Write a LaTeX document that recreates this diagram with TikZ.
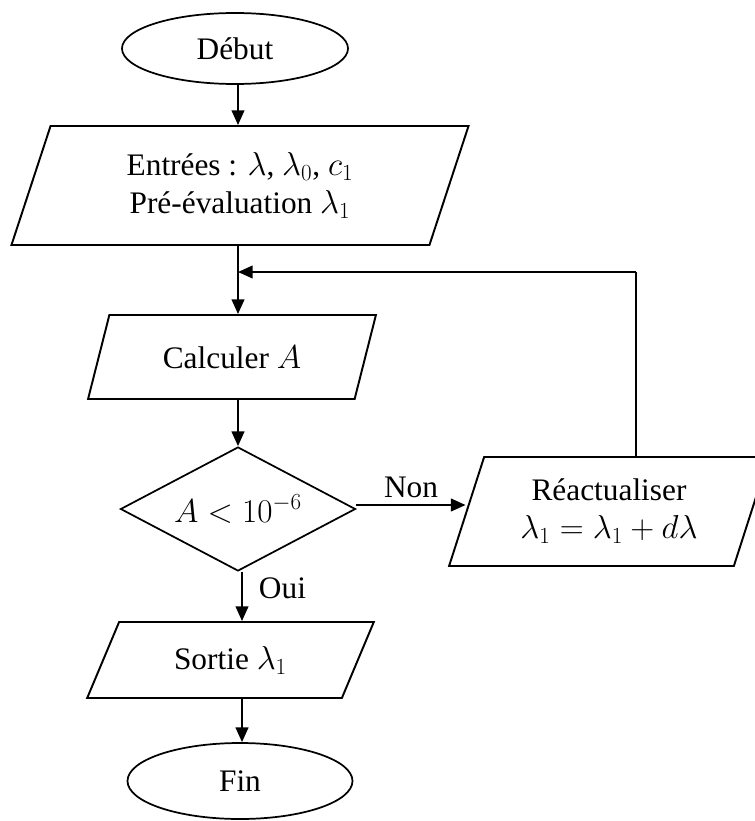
\documentclass[tikz,border=0pt]{standalone}
\usepackage{fontspec}
\setmainfont{Liberation Serif}
\usetikzlibrary{shapes.geometric,arrows.meta}
\begin{document}
\begin{tikzpicture}[x=0.75pt,y=-0.75pt,
  every node/.style={font=\fontsize{23.5}{28.5}\selectfont},
  shp/.style={draw,line width=1.45pt,inner sep=0pt,align=center},
  term/.style={shp,ellipse,line width=1.3pt},
  para/.style={shp,trapezium,trapezium stretches=true},
  cond/.style={shp,diamond,aspect=1.9,line width=1.3pt},
  arr/.style={line width=1.45pt,-{Triangle[length=11pt,width=9.5pt]}},
  lbl/.style={inner sep=0pt}]
\useasboundingbox (0,0) rectangle (755,821);
\clip (0,0) rectangle (755,821);
\node[term,minimum width=169.5pt,minimum height=53.25pt] (debut) at (235,48.5) {Début};
\node[para,trapezium left angle=70.5,trapezium right angle=109.5,minimum width=343.5pt,minimum height=89.25pt] (entree) at (240,185.5)
  {Entrées : $\lambda$, $\lambda_0$, $c_1$\\Pré-évaluation $\lambda_1$};
\node[para,trapezium left angle=62.4,trapezium right angle=117.6,minimum width=216pt,minimum height=63pt] (calc) at (232,357) {Calculer $A$};
\node[cond,minimum width=176.25pt,minimum height=93pt] (test) at (238,509) {$A<10^{-6}$};
\node[para,trapezium left angle=69,trapezium right angle=111,minimum width=240pt,minimum height=81.75pt] (reac) at (609,511.5)
  {Réactualiser\\$\lambda_1=\lambda_1+d\lambda$};
\node[para,trapezium left angle=60,trapezium right angle=120,minimum width=215.25pt,minimum height=57pt] (sortie) at (230.5,660) {Sortie $\lambda_1$};
\node[term,minimum width=168.75pt,minimum height=57pt] (fin) at (240,781) {Fin};
\coordinate (axis) at (238,0);
\coordinate (fb) at (636,272);
\coordinate (oui) at (242,0);
\coordinate (nonlvl) at (0,505);
\draw[arr] (debut.south -| axis) -- (axis |- entree.north);
\draw[arr] (entree.south -| axis) -- (axis |- calc.north);
\draw[line width=1.45pt] (reac.north -| fb) -- (fb);
\draw[arr] (fb) -- (fb -| axis);
\draw[arr] (calc.south -| axis) -- (test.north);
\draw[arr] (test.east |- nonlvl) -- (reac.west |- nonlvl) node[lbl,midway,above=5pt] {Non};
\draw[arr] (test.south -| oui) -- (oui |- sortie.north) node[lbl,pos=0.33,right=12pt] {Oui};
\draw[arr] (sortie.south -| oui) -- (oui |- fin.north);
\end{tikzpicture}
\end{document}
